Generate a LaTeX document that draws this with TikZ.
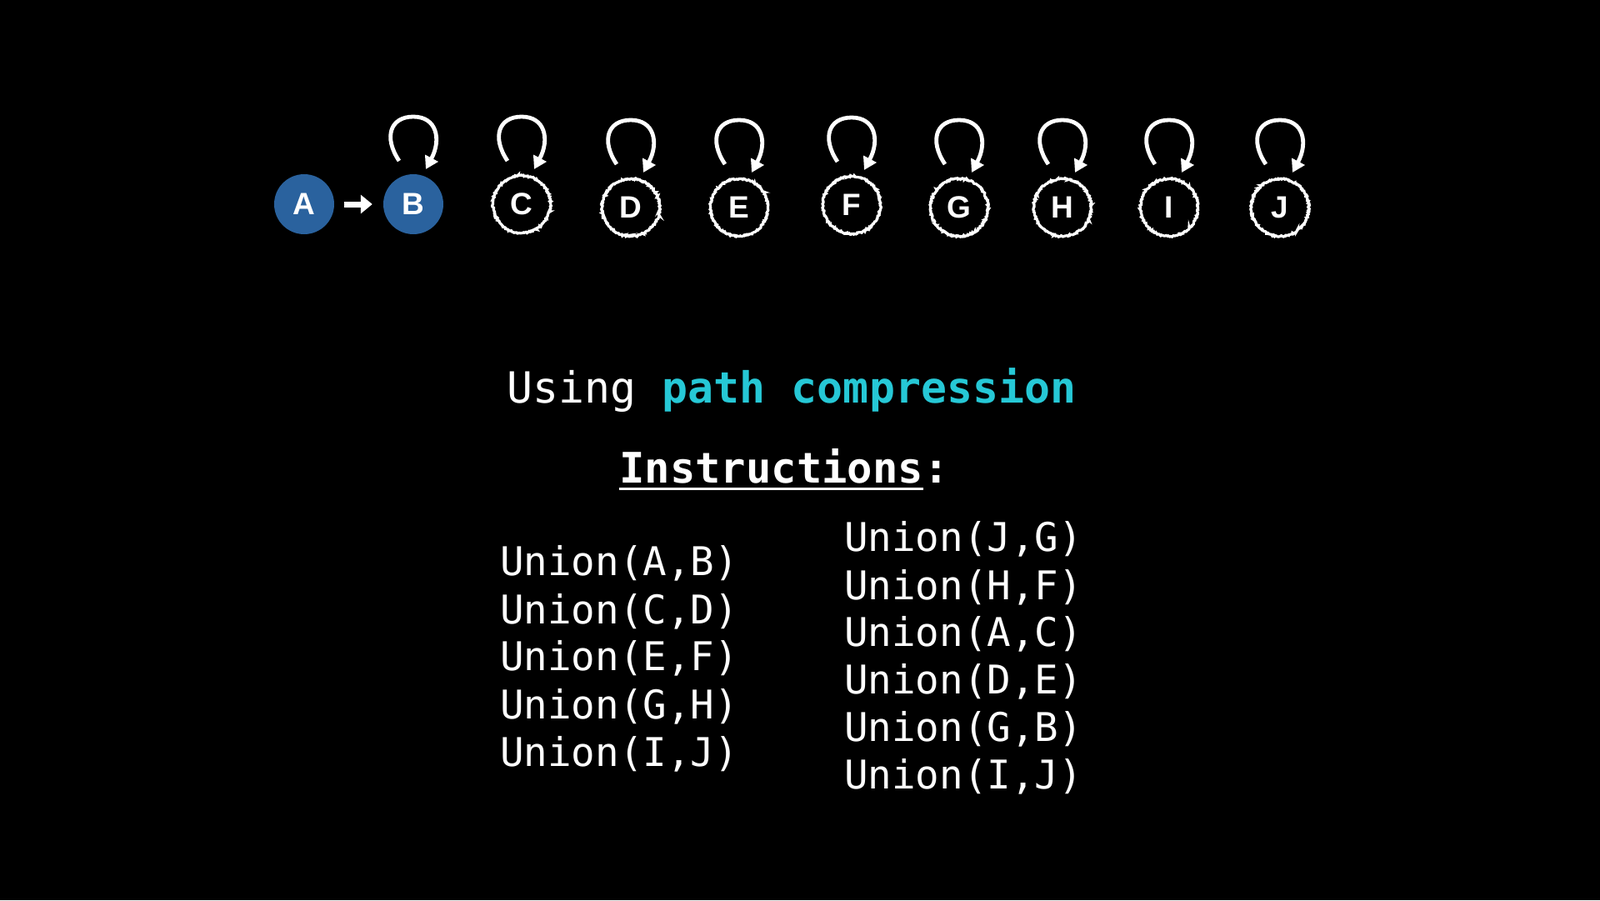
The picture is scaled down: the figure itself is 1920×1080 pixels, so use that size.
\documentclass[tikz,border=0pt]{standalone}
\usepackage{fontspec}
\setmainfont{Liberation Sans}
\newfontfamily\monof{DejaVu Sans Mono}
\usetikzlibrary{arrows.meta,decorations.pathmorphing,calc}
\definecolor{nodeblue}{RGB}{42,98,158}
\definecolor{cyantext}{RGB}{38,200,214}
\begin{document}
\begin{tikzpicture}[x=1pt,y=-1pt,
  solidnode/.style={circle, fill=nodeblue, minimum size=72pt, inner sep=0pt, text=white,
    font=\fontsize{37}{37}\selectfont\bfseries},
  roughnode/.style={circle, draw=white, line width=3.2pt, minimum size=69pt, inner sep=0pt, text=white,
    font=\fontsize{37}{37}\selectfont\bfseries,
    decorate, decoration={random steps, segment length=1.2pt, amplitude=0.9pt}},
  looparrow/.style={draw=white, line width=4.8pt, -{Triangle[length=15pt,width=17pt]}},
  linkarrow/.style={draw=white, line width=7pt, -{Triangle[length=14pt,width=22pt]}, shorten <=12pt, shorten >=13pt},
  instr/.style={anchor=base west, inner sep=0pt, text=white, font=\monof\fontsize{47.5}{47.5}\selectfont}
]
\useasboundingbox (0,0) rectangle (1920,1080);
\fill[black] (0,0) rectangle (1920,1080);

% nodes
\node[solidnode] (A) at (365,245) {A};
\node[solidnode] (B) at (496,245) {B};
\node[roughnode] (C) at (626,245) {C};
\node[roughnode] (D) at (757,249) {D};
\node[roughnode] (E) at (887,249) {E};
\node[roughnode] (F) at (1022,246) {F};
\node[roughnode] (G) at (1151,249) {G};
\node[roughnode] (H) at (1275,249) {H};
\node[roughnode] (I) at (1403,249) {I};
\node[roughnode] (J) at (1536,249) {J};

\draw[linkarrow] (A) -- (B);

\foreach \n in {B,C,D,E,F,G,H,I,J} {
  \draw[looparrow] ($(\n)+(-17,-52)$) .. controls ($(\n)+(-36,-80)$) and ($(\n)+(-28,-105)$) .. ($(\n)+(0,-105)$)
     .. controls ($(\n)+(28,-105)$) and ($(\n)+(34,-78)$) .. ($(\n)+(15,-42)$);
}

% title
\node[anchor=base, inner sep=0pt, text=white, font=\monof\fontsize{51.5}{51.5}\selectfont] (title) at (950,483)
  {Using \textcolor{cyantext}{\bfseries path compression}};

\node[anchor=base west, inner sep=0pt, text=white, font=\monof\bfseries\fontsize{50.5}{50.5}\selectfont] (instrhead) at (743,579) {Instructions};
\node[anchor=base west, inner sep=0pt, text=white, font=\monof\bfseries\fontsize{50.5}{50.5}\selectfont] (colon) at (instrhead.base east) {:};
\draw[white, line width=3pt] ($(instrhead.base west)+(0,7)$) -- ($(instrhead.base east)+(0,7)$);

% left column
\node[instr] (l1) at (600,690) {Union(A,B)};
\node[instr] (l2) at (600,748) {Union(C,D)};
\node[instr] (l3) at (600,804) {Union(E,F)};
\node[instr] (l4) at (600,862) {Union(G,H)};
\node[instr] (l5) at (600,919) {Union(I,J)};

% right column
\node[instr] (r1) at (1013,661) {Union(J,G)};
\node[instr] (r2) at (1013,719) {Union(H,F)};
\node[instr] (r3) at (1013,775) {Union(A,C)};
\node[instr] (r4) at (1013,832) {Union(D,E)};
\node[instr] (r5) at (1013,889) {Union(G,B)};
\node[instr] (r6) at (1013,946) {Union(I,J)};
\end{tikzpicture}
\end{document}
